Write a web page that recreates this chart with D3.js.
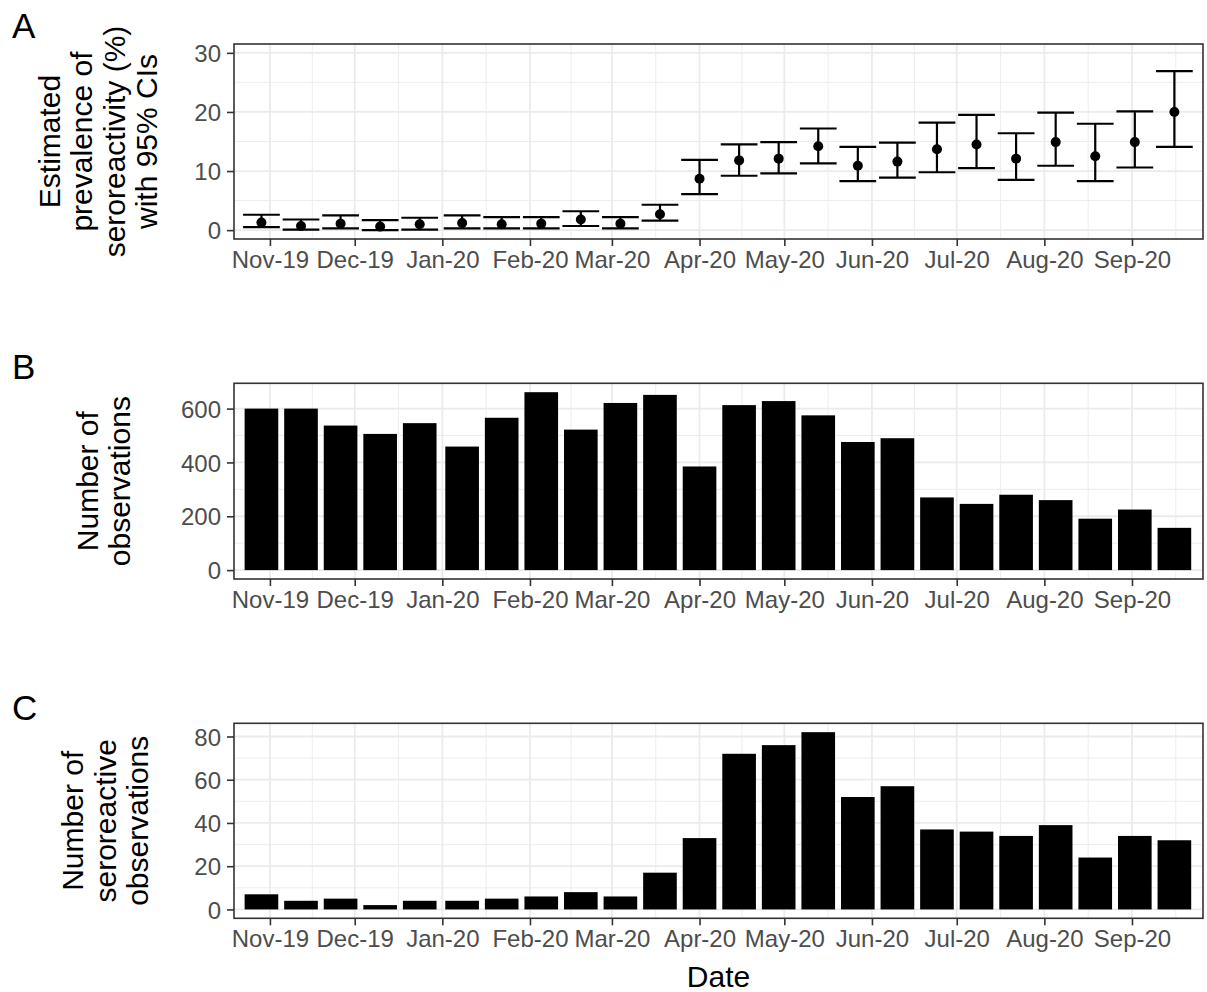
<!DOCTYPE html>
<html>
<head>
<meta charset="utf-8">
<script src="https://cdn.jsdelivr.net/npm/d3@7"></script>
<style>
  html, body { margin: 0; padding: 0; background: #fff; }
  svg { display: block; font-family: "Liberation Sans", Arial, sans-serif; }
</style>
</head>
<body>
<svg id="chart" width="1207" height="992"></svg>
<script>
// Fortnightly sampling periods (centre date of each period)
const periodDates = [
  "2019-10-29", "2019-11-12", "2019-11-26", "2019-12-10", "2019-12-24",
  "2020-01-08", "2020-01-22", "2020-02-05", "2020-02-19", "2020-03-04",
  "2020-03-18", "2020-04-01", "2020-04-15", "2020-04-29", "2020-05-13",
  "2020-05-27", "2020-06-10", "2020-06-24", "2020-07-08", "2020-07-22",
  "2020-08-05", "2020-08-19", "2020-09-02", "2020-09-16"
];

// Estimated prevalence of seroreactivity (%) with 95% CI bounds
const prevalence = [1.3, 0.7, 1.1, 0.6, 1.0, 1.2, 1.0, 1.1, 1.8, 1.1, 2.7, 8.7,
                    11.8, 12.1, 14.2, 10.9, 11.6, 13.7, 14.5, 12.1, 14.9, 12.5, 14.9, 20.0];
const ciLower    = [0.5, 0.1, 0.3, 0.0, 0.1, 0.3, 0.3, 0.3, 0.7, 0.3, 1.6, 6.1,
                    9.2, 9.6, 11.3, 8.3, 8.9, 9.8, 10.5, 8.5, 10.9, 8.3, 10.6, 14.1];
const ciUpper    = [2.6, 1.8, 2.5, 1.7, 2.1, 2.5, 2.2, 2.2, 3.2, 2.2, 4.3, 11.9,
                    14.5, 14.9, 17.2, 14.1, 14.8, 18.2, 19.5, 16.4, 19.9, 18.0, 20.1, 26.9];

// Number of observations per period
const observations = [600, 600, 537, 506, 546, 459, 566, 661, 522, 621, 651, 385,
                      613, 628, 575, 476, 490, 270, 246, 280, 260, 191, 225, 157];

// Number of seroreactive observations per period
const seroreactive = [7, 4, 5, 2, 4, 4, 5, 6, 8, 6, 17, 33,
                      72, 76, 82, 52, 57, 37, 36, 34, 39, 24, 34, 32];

// Axis tick values
const prevalenceTicks = [0, 10, 20, 30];
const observationTicks = [0, 200, 400, 600];
const seroreactiveTicks = [0, 20, 40, 60, 80];

const parseDate = d3.utcParse("%Y-%m-%d");
const dates = periodDates.map(parseDate);
const DAY = 864e5;

const svg = d3.select("#chart");
const left = 234, right = 1203;

const x = d3.scaleUtc()
  .domain([new Date(Date.UTC(2019, 9, 19, 7)), new Date(Date.UTC(2020, 8, 26, 3))])
  .range([left, right]);

const monthTicks = d3.utcMonth.range(new Date(Date.UTC(2019, 10, 1)), new Date(Date.UTC(2020, 9, 1)));
const fmt = d3.utcFormat("%b-%y");

// minor x breaks halfway between month ticks, extended one step past the ends
function minorX() {
  const t = monthTicks.map(d => +d);
  const out = [];
  out.push(t[0] - (t[1] - t[0]) / 2);
  for (let i = 0; i < t.length - 1; i++) out.push((t[i] + t[i + 1]) / 2);
  out.push(t[t.length - 1] + (t[t.length - 1] - t[t.length - 2]) / 2);
  const [d0, d1] = x.domain().map(Number);
  return out.filter(v => v >= d0 && v <= d1).map(v => new Date(v));
}

function panel(opts) {
  const { top, bottom, y, ticks, minor, titleLines, titleBaseline, letter, letterY } = opts;
  const g = svg.append("g");

  // background grid
  g.append("g").selectAll("line").data(minor).join("line")
    .attr("x1", left).attr("x2", right)
    .attr("y1", d => y(d)).attr("y2", d => y(d))
    .attr("stroke", "#ebebeb").attr("stroke-width", 0.9);
  g.append("g").selectAll("line").data(minorX()).join("line")
    .attr("y1", top).attr("y2", bottom)
    .attr("x1", d => x(d)).attr("x2", d => x(d))
    .attr("stroke", "#ebebeb").attr("stroke-width", 0.9);
  g.append("g").selectAll("line").data(ticks).join("line")
    .attr("x1", left).attr("x2", right)
    .attr("y1", d => y(d)).attr("y2", d => y(d))
    .attr("stroke", "#ebebeb").attr("stroke-width", 1.8);
  g.append("g").selectAll("line").data(monthTicks).join("line")
    .attr("y1", top).attr("y2", bottom)
    .attr("x1", d => x(d)).attr("x2", d => x(d))
    .attr("stroke", "#ebebeb").attr("stroke-width", 1.8);

  const marks = g.append("g");

  // axes
  const xAxis = g.append("g").attr("transform", `translate(0,${bottom})`)
    .call(d3.axisBottom(x).tickValues(monthTicks).tickFormat(fmt).tickSize(7).tickPadding(6));
  const yAxis = g.append("g").attr("transform", `translate(${left},0)`)
    .call(d3.axisLeft(y).tickValues(ticks).tickSize(7).tickPadding(6));
  [xAxis, yAxis].forEach(a => {
    a.select(".domain").remove();
    a.selectAll(".tick line").attr("stroke", "#333333").attr("stroke-width", 1.6);
    a.selectAll(".tick text").attr("fill", "#4d4d4d").attr("font-size", 24)
      .attr("font-family", "Liberation Sans, Arial, sans-serif");
  });
  xAxis.selectAll(".tick text").attr("dy", "0.71em").attr("y", 12);
  yAxis.selectAll(".tick text").attr("dy", "0.36em");

  // panel border
  g.append("rect").attr("x", left).attr("y", top)
    .attr("width", right - left).attr("height", bottom - top)
    .attr("fill", "none").attr("stroke", "#333333").attr("stroke-width", 1.6);

  // y title
  const cy = (top + bottom) / 2;
  const n = titleLines.length;
  const t = g.append("text")
    .attr("transform", `translate(0,${cy}) rotate(-90)`)
    .attr("text-anchor", "middle").attr("font-size", 30).attr("fill", "#000");
  titleLines.forEach((s, i) => {
    t.append("tspan").attr("x", 0).attr("y", titleBaseline - 32.5 * (n - 1 - i)).text(s);
  });

  // panel letter
  g.append("text").attr("x", 12).attr("y", letterY)
    .attr("font-size", 35).attr("fill", "#000").text(letter);

  return marks;
}

function expanded(lo, hi) {
  const pad = (hi - lo) * 0.05;
  return [lo - pad, hi + pad];
}

// Panel A: prevalence with 95% CIs
const yA = d3.scaleLinear().domain(expanded(0, 30)).range([239, 44]);
const mA = panel({
  top: 44, bottom: 239, y: yA, ticks: prevalenceTicks, minor: [5, 15, 25],
  titleLines: ["Estimated", "prevalence of", "seroreactivity (%)", "with 95% CIs"],
  titleBaseline: 157, letter: "A", letterY: 38
});
const capHalf = 6.5 * DAY;
const rowsA = dates.map((d, i) => ({ d, p: prevalence[i], lo: ciLower[i], hi: ciUpper[i] }));
mA.selectAll(".whisker").data(rowsA).join("line").attr("class", "whisker")
  .attr("x1", r => x(r.d)).attr("x2", r => x(r.d))
  .attr("y1", r => yA(r.lo)).attr("y2", r => yA(r.hi))
  .attr("stroke", "#000").attr("stroke-width", 2.2);
["lo", "hi"].forEach(k => {
  mA.selectAll(".cap-" + k).data(rowsA).join("line").attr("class", "cap-" + k)
    .attr("x1", r => x(new Date(+r.d - capHalf))).attr("x2", r => x(new Date(+r.d + capHalf)))
    .attr("y1", r => yA(r[k])).attr("y2", r => yA(r[k]))
    .attr("stroke", "#000").attr("stroke-width", 2.2);
});
mA.selectAll("circle").data(rowsA).join("circle")
  .attr("cx", r => x(r.d)).attr("cy", r => yA(r.p)).attr("r", 5).attr("fill", "#000");

// bar helper
const barHalf = 5.95 * DAY;
function bars(marks, y, values) {
  marks.selectAll("rect").data(values).join("rect")
    .attr("x", (v, i) => x(new Date(+dates[i] - barHalf)))
    .attr("width", (v, i) => x(new Date(+dates[i] + barHalf)) - x(new Date(+dates[i] - barHalf)))
    .attr("y", v => y(v))
    .attr("height", v => y(0) - y(v))
    .attr("fill", "#000");
}

// Panel B: number of observations
const yB = d3.scaleLinear().domain(expanded(0, d3.max(observations))).range([579, 383.3]);
const mB = panel({
  top: 383.3, bottom: 579, y: yB, ticks: observationTicks, minor: [100, 300, 500],
  titleLines: ["Number of", "observations"],
  titleBaseline: 130, letter: "B", letterY: 379
});
bars(mB, yB, observations);

// Panel C: number of seroreactive observations
const yC = d3.scaleLinear().domain(expanded(0, d3.max(seroreactive))).range([918.3, 723.3]);
const mC = panel({
  top: 723.3, bottom: 918.3, y: yC, ticks: seroreactiveTicks, minor: [10, 30, 50, 70],
  titleLines: ["Number of", "seroreactive", "observations"],
  titleBaseline: 148, letter: "C", letterY: 720
});
bars(mC, yC, seroreactive);

// shared x title
svg.append("text").attr("x", (left + right) / 2).attr("y", 987)
  .attr("text-anchor", "middle").attr("font-size", 30).attr("fill", "#000").text("Date");
</script>
</body>
</html>
